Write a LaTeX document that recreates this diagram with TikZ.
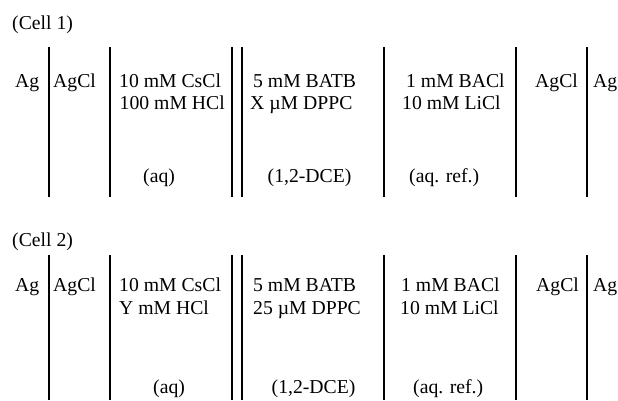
\documentclass[tikz,border=0pt]{standalone}
\usepackage{fontspec}
\setmainfont{Liberation Serif}
\begin{document}
\begin{tikzpicture}[x=1pt,y=-1pt,
  lbl/.style={anchor=base west, inner sep=0pt, font=\fontsize{19.7}{22}\selectfont},
  bar/.style={line width=1.3pt, line cap=butt}]
\useasboundingbox (0,0) rectangle (618,400);

% ---------- Cell 1 ----------
\node[lbl] (t1) at (12,29) {(Cell 1)};
\node[lbl] (a1ag)   at (15,87)  {Ag};
\node[lbl] (a1agcl) at (53,87)  {AgCl};
\node[lbl] (a1cs)   at (119,87) {10 mM CsCl};
\node[lbl] (a1hcl)  at (119.5,109.5) {100 mM HCl};
\node[lbl] (a1aq)   at (143,182.5) {(aq)};
\node[lbl] (o1batb) at (253,87) {5 mM BATB};
\node[lbl] (o1dppc) at (250,109.5) {X µM DPPC};
\node[lbl] (o1dce)  at (267.5,182.5) {(1,2-DCE)};
\node[lbl] (r1bacl) at (406,87) {1 mM BACl};
\node[lbl] (r1licl) at (402,109.5) {10 mM LiCl};
\node[lbl] (r1ref)  at (409,182.5) {(aq. ref.)};
\node[lbl] (e1agcl) at (535,87) {AgCl};
\node[lbl] (e1ag)   at (593,87) {Ag};

\foreach \xx in {49,110,232,242,384,516,587}
  \draw[bar] (\xx,47) -- (\xx,197);

% ---------- Cell 2 ----------
\node[lbl] (t2) at (12,246.5) {(Cell 2)};
\node[lbl] (a2ag)   at (15,291.5)  {Ag};
\node[lbl] (a2agcl) at (53,291.5)  {AgCl};
\node[lbl] (a2cs)   at (119,291.5) {10 mM CsCl};
\node[lbl] (a2hcl)  at (119,314.5) {Y mM HCl};
\node[lbl] (a2aq)   at (153,393) {(aq)};
\node[lbl] (o2batb) at (253,291.5) {5 mM BATB};
\node[lbl] (o2dppc) at (253,314.5) {25 µM DPPC};
\node[lbl] (o2dce)  at (271.5,393) {(1,2-DCE)};
\node[lbl] (r2bacl) at (401,291.5) {1 mM BACl};
\node[lbl] (r2licl) at (400,314.5) {10 mM LiCl};
\node[lbl] (r2ref)  at (413,393) {(aq. ref.)};
\node[lbl] (e2agcl) at (536,291.5) {AgCl};
\node[lbl] (e2ag)   at (593,291.5) {Ag};

\foreach \xx in {49,110,232,242,384,516,587}
  \draw[bar] (\xx,255) -- (\xx,400);
\end{tikzpicture}
\end{document}
